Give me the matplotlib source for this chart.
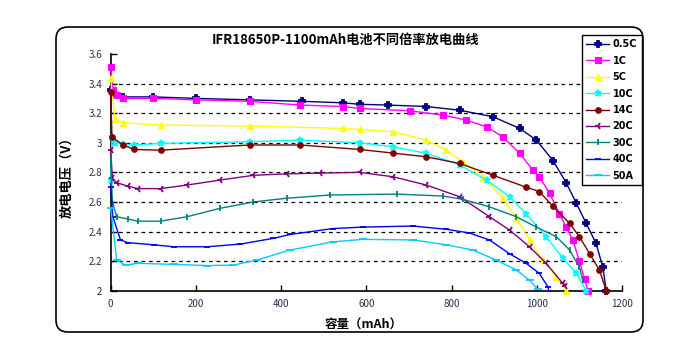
import matplotlib
matplotlib.use("Agg")
import matplotlib.pyplot as plt
from matplotlib.patches import FancyBboxPatch

plt.rcParams['font.family'] = ['Noto Sans CJK SC', 'DejaVu Sans']

title = "IFR18650P-1100mAh电池不同倍率放电曲线"
xlabel = "容量（mAh）"
ylabel = "放电电压（V）"
xticks = [0, 200, 400, 600, 800, 1000, 1200]
yticks = [2.0, 2.2, 2.4, 2.6, 2.8, 3.0, 3.2, 3.4, 3.6]
ytick_labels = ["2", "2.2", "2.4", "2.6", "2.8", "3", "3.2", "3.4", "3.6"]
grid_levels = [2.2, 2.4, 2.6, 2.8, 3.0, 3.2, 3.4]

labels = ["0.5C", "1C", "5C", "10C", "14C", "20C", "30C", "40C", "50A"]

x_05c = [0, 8, 30, 100, 200, 327, 450, 545, 584, 650, 741, 819, 897, 960, 999, 1038, 1069, 1093, 1116, 1139, 1155, 1163]
y_05c = [3.36, 3.33, 3.31, 3.31, 3.30, 3.29, 3.28, 3.27, 3.26, 3.255, 3.245, 3.22, 3.176, 3.097, 3.018, 2.88, 2.73, 2.59, 2.455, 2.32, 2.16, 2.0]

x_1c = [0, 5, 15, 30, 100, 200, 327, 444, 545, 584, 702, 780, 835, 882, 920, 960, 991, 1006, 1030, 1053, 1069, 1085, 1100, 1112, 1120]
y_1c = [3.51, 3.36, 3.32, 3.30, 3.30, 3.29, 3.28, 3.255, 3.245, 3.232, 3.216, 3.187, 3.153, 3.108, 3.04, 2.928, 2.815, 2.77, 2.66, 2.52, 2.43, 2.34, 2.20, 2.08, 2.0]

x_5c = [0, 10, 30, 117, 327, 545, 584, 663, 741, 788, 827, 874, 920, 952, 983, 1014, 1046, 1069]
y_5c = [3.435, 3.16, 3.135, 3.12, 3.113, 3.097, 3.09, 3.074, 3.018, 2.95, 2.87, 2.77, 2.625, 2.49, 2.343, 2.207, 2.095, 2.0]

x_10c = [0, 3, 10, 30, 54, 117, 327, 444, 584, 663, 741, 819, 882, 936, 975, 1022, 1061, 1093, 1116]
y_10c = [2.75, 3.04, 3.0, 2.99, 2.985, 2.996, 3.007, 3.018, 3.0, 2.973, 2.928, 2.85, 2.748, 2.635, 2.52, 2.365, 2.22, 2.12, 2.0]

x_14c = [0, 3, 30, 54, 117, 327, 444, 584, 663, 741, 819, 897, 975, 1006, 1038, 1077, 1100, 1124, 1147, 1163]
y_14c = [3.345, 3.036, 2.985, 2.955, 2.95, 2.985, 2.985, 2.955, 2.93, 2.905, 2.86, 2.78, 2.70, 2.67, 2.57, 2.455, 2.365, 2.25, 2.14, 2.0]

x_20c = [0, 4, 14, 40, 63, 117, 179, 257, 335, 413, 491, 584, 663, 741, 819, 889, 936, 983, 1022, 1061, 1066]
y_20c = [2.95, 2.76, 2.73, 2.707, 2.69, 2.69, 2.714, 2.748, 2.78, 2.79, 2.795, 2.80, 2.77, 2.714, 2.635, 2.50, 2.41, 2.297, 2.185, 2.05, 2.03]

x_30c = [0, 4, 14, 40, 63, 117, 179, 257, 335, 413, 515, 671, 780, 827, 889, 952, 999, 1046, 1077, 1100, 1108]
y_30c = [2.88, 2.6, 2.50, 2.485, 2.47, 2.47, 2.50, 2.557, 2.60, 2.625, 2.647, 2.653, 2.64, 2.617, 2.567, 2.50, 2.43, 2.365, 2.275, 2.16, 2.07]

x_40c = [0, 5, 23, 40, 102, 148, 226, 304, 382, 421, 521, 592, 710, 788, 842, 889, 936, 975, 1006, 1026, 1028]
y_40c = [2.70, 2.50, 2.343, 2.325, 2.31, 2.297, 2.297, 2.315, 2.354, 2.38, 2.42, 2.43, 2.437, 2.415, 2.39, 2.343, 2.25, 2.185, 2.117, 2.027, 2.0]

x_50a = [0, 14, 35, 63, 148, 226, 288, 343, 421, 521, 592, 710, 788, 850, 905, 952, 983, 1002]
y_50a = [2.56, 2.207, 2.173, 2.185, 2.178, 2.17, 2.173, 2.207, 2.275, 2.33, 2.347, 2.343, 2.31, 2.275, 2.207, 2.14, 2.072, 2.01]

series = [
    (x_05c, y_05c, '#000080', 'P', 3.8),
    (x_1c, y_1c, '#FF00FF', 's', 4),
    (x_5c, y_5c, '#FFFF00', '^', 4),
    (x_10c, y_10c, '#00FFFF', '*', 4.5),
    (x_14c, y_14c, '#800000', 'o', 4),
    (x_20c, y_20c, '#800080', '3', 5),
    (x_30c, y_30c, '#008080', '|', 5),
    (x_40c, y_40c, '#0000FF', '_', 5),
    (x_50a, y_50a, '#00CCFF', '_', 6),
]

fig = plt.figure(figsize=(7.0, 3.58), dpi=100)
ax = fig.add_axes([110.7 / 700, 1 - 290.7 / 358, (622 - 110.7) / 700, (290.7 - 54) / 358])

ax.hlines(grid_levels, 0, 1200, colors='black', linestyles=(0, (3, 3)), linewidth=0.9, zorder=1)

handles = []
for (xs, ys, c, m, ms), lab in zip(series, labels):
    h, = ax.plot(xs, ys, color=c, marker=m, markersize=ms, linewidth=1.0,
                 markeredgewidth=1.3 if m in ('3', '|', '_', '*', 'P') else 0.8,
                 markeredgecolor=c, label=lab, zorder=3, clip_on=False)
    handles.append(h)

ax.set_xlim(0, 1200)
ax.set_ylim(2.0, 3.6)
ax.set_xticks(xticks)
ax.set_yticks(yticks)
ax.set_yticklabels(ytick_labels)
ax.tick_params(direction='in', length=4, width=1, labelsize=7, colors='black',
               labelcolor='#2b2b55', pad=6)
for s in ['top', 'right']:
    ax.spines[s].set_visible(False)
for s in ['left', 'bottom']:
    ax.spines[s].set_linewidth(1.2)

fig.text(346 / 700, 1 - 40 / 358, title, ha='center', va='center', fontsize=9.5, fontweight='bold')
fig.text(364 / 700, 1 - 325 / 358, xlabel, ha='center', va='center', fontsize=9, fontweight='bold')
fig.text(66 / 700, 1 - 174 / 358, ylabel, ha='center', va='center', fontsize=9.5, fontweight='bold', rotation=90)

leg = fig.legend(handles=handles, labels=labels, loc='upper left',
                 bbox_to_anchor=(582 / 700, 1 - 35 / 358), borderaxespad=0, fancybox=False,
                 edgecolor='black', framealpha=1, handlelength=2.3,
                 labelspacing=0.66, borderpad=0.45, handletextpad=0.4,
                 prop={'family': ['DejaVu Sans'], 'weight': 'bold', 'size': 7})
leg.get_frame().set_linewidth(1.0)

border = FancyBboxPatch((0.56, 0.26), 5.87, 3.05, boxstyle='round,pad=0,rounding_size=0.12',
                        transform=fig.dpi_scale_trans, fill=False, edgecolor='black', linewidth=1.2)
fig.patches.append(border)

fig.savefig('out.png', dpi=100)
